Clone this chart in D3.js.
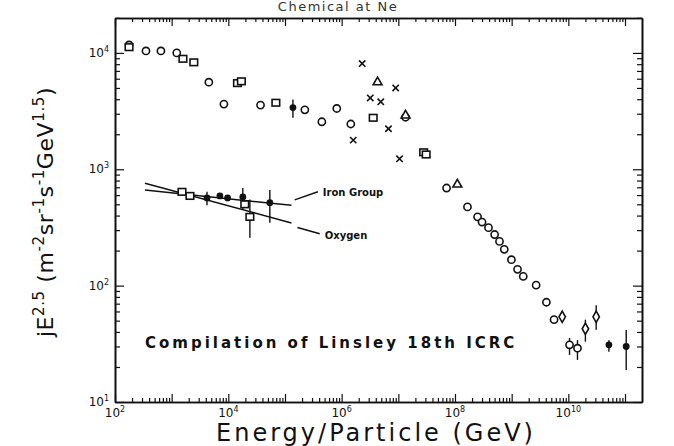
<!DOCTYPE html>
<html><head><meta charset="utf-8">
<script src="https://cdn.jsdelivr.net/npm/d3@7/dist/d3.min.js"></script>
<style>body{margin:0;background:#fff}svg{display:block}</style>
</head><body><svg id="c" width="674" height="446"></svg>
<script>
// ---- data (energy in GeV, flux jE^2.5) ----
const openCircleE = [177, 352, 646, 1230, 4530, 8360, 37000, 224000, 447000, 820000, 1.45e6, 1.34e7, 7.1e7,
  1.66e8, 2.5e8, 3.0e8, 3.9e8, 5.0e8, 6.1e8, 7.4e8, 9.9e8, 1.27e9, 1.6e9, 2.7e9, 4.1e9, 5.6e9];
const openCircleJ = [11700, 10400, 10400, 10000, 5600, 3630, 3560, 3240, 2560, 3330, 2450, 2800, 690,
  475, 390, 352, 315, 275, 240, 205, 167, 138, 120, 101, 72, 51];
const openSquareE = [177, 1580, 2460, 14500, 17000, 69000, 3.6e6, 2.8e7, 3.1e7, 1520, 2100, 19500];
const openSquareJ = [11200, 8900, 8300, 5500, 5700, 3730, 2770, 1400, 1340, 640, 590, 500];
const triangleE = [4.3e6, 1.34e7, 1.1e8];
const triangleJ = [5600, 2900, 740];
const crossE = [2.3e6, 3.2e6, 4.9e6, 8.97e6, 6.7e6, 1.6e6, 1.05e7];
const crossJ = [8100, 4100, 3800, 5000, 2230, 1780, 1230];
// points with error bars
const errCircleE = [1.05e10, 1.45e10];
const errCircleJ = [31, 29];
const errCircleLo = [25.4, 23];
const errCircleHi = [35.5, 34];
const diamondE = [7.8e9, 2.0e10, 3.1e10];
const diamondJ = [54, 42.6, 54];
const diamondLo = [54, 33, 41.7];
const diamondHi = [54, 51, 68];
const filledE = [1.38e5, 4200, 7100, 9700, 18000, 54000, 5.2e10, 1.05e11];
const filledJ = [3390, 567, 590, 567, 578, 516, 31, 30];
const filledLo = [2770, 490, 590, 567, 447, 347, 27, 18.8];
const filledHi = [3970, 640, 590, 567, 692, 662, 34, 41.6];
const oxySquareE = [24000];
const oxySquareJ = [390];
const oxySquareLo = [258];
const oxySquareHi = [550];
// fit lines
const ironLineE = [338, 1.3e5];
const ironLineJ = [662, 490];
const oxygenLineE = [338, 1.3e5];
const oxygenLineJ = [758, 346];
// labels
const ironLeaderE = [1.48e5, 3.8e5], ironLeaderJ = [546, 640];
const oxyLeaderE = [1.66e5, 4.1e5], oxyLeaderJ = [316, 279];
const xMajor = [1e2,1e3,1e4,1e5,1e6,1e7,1e8,1e9,1e10,1e11];
const xLabelExp = [2, 4, 6, 8, 10];
const yMajor = [1e1,1e2,1e3,1e4];
const yLabelExp = [1, 2, 3, 4];

// ---- drawing ----
const svg = d3.select("#c");
const L = 115, R = 642, T = 18, B = 402;
const x = d3.scaleLog().domain([100, Math.pow(10, 11.3)]).range([L, R]);
const y = d3.scaleLog().domain([10, Math.pow(10, 4.3)]).range([B, T]);
const ink = "#111";

// partial title (mostly cut off in the original scan)
svg.append("text").attr("x", 338).attr("y", 11).attr("text-anchor", "middle")
  .attr("font-family", "DejaVu Sans").attr("font-size", 13).attr("fill", "#333")
  .attr("letter-spacing", 1.5).text("Chemical at  Ne");

// minor ticks
function minors(lo, hi) { const a = []; for (let e = lo; e < hi; e++) for (let k = 2; k <= 9; k++) a.push(k * Math.pow(10, e)); return a; }
const xMin = minors(2, 11).filter(v => v < x.domain()[1]);
const yMin = minors(1, 4).concat([2e4]);

function axisG(axis, tr) {
  const g = svg.append("g").attr("transform", tr).call(axis);
  g.selectAll("text").remove();
  g.select(".domain").attr("stroke", ink).attr("stroke-width", 1.6);
  g.selectAll(".tick line").attr("stroke", ink).attr("stroke-width", 1.2);
  return g;
}
axisG(d3.axisBottom(x).tickValues(xMajor).tickSizeInner(-8).tickSizeOuter(0), `translate(0,${B})`);
axisG(d3.axisBottom(x).tickValues(xMin).tickSizeInner(-4).tickSizeOuter(0), `translate(0,${B})`);
axisG(d3.axisTop(x).tickValues(xMajor).tickSizeInner(-8).tickSizeOuter(0), `translate(0,${T})`);
axisG(d3.axisTop(x).tickValues(xMin).tickSizeInner(-4).tickSizeOuter(0), `translate(0,${T})`);
axisG(d3.axisLeft(y).tickValues(yMajor).tickSizeInner(-9).tickSizeOuter(0), `translate(${L},0)`);
axisG(d3.axisLeft(y).tickValues(yMin).tickSizeInner(-5).tickSizeOuter(0), `translate(${L},0)`);
axisG(d3.axisRight(y).tickValues(yMajor).tickSizeInner(-9).tickSizeOuter(0), `translate(${R},0)`);
axisG(d3.axisRight(y).tickValues(yMin).tickSizeInner(-5).tickSizeOuter(0), `translate(${R},0)`);

// tick labels
const lblFont = "DejaVu Sans";
xLabelExp.forEach(e => {
  const t = svg.append("text").attr("x", x(Math.pow(10, e))).attr("y", B + 15)
    .attr("text-anchor", "middle").attr("font-family", lblFont).attr("font-size", 12).attr("fill", ink);
  t.append("tspan").text("10");
  t.append("tspan").attr("dy", -5).attr("font-size", 8).text(e);
});
yLabelExp.forEach(e => {
  const t = svg.append("text").attr("x", L - 6).attr("y", y(Math.pow(10, e)) + 4)
    .attr("text-anchor", "end").attr("font-family", lblFont).attr("font-size", 12).attr("fill", ink);
  t.append("tspan").text("10");
  t.append("tspan").attr("dy", -5).attr("font-size", 8).text(e);
});

// axis titles
svg.append("text").attr("x", 376).attr("y", 441).attr("text-anchor", "middle")
  .attr("font-family", "DejaVu Sans").attr("font-size", 24).attr("letter-spacing", 3).attr("fill", ink)
  .text("Energy/Particle (GeV)");
const yl = svg.append("text").attr("transform", "translate(53,212) rotate(-90)").attr("text-anchor", "middle")
  .attr("font-family", "DejaVu Sans").attr("font-size", 22).attr("letter-spacing", 0.6).attr("fill", ink);
yl.append("tspan").text("jE");
yl.append("tspan").attr("dy", -9).attr("font-size", 15).text("2.5");
yl.append("tspan").attr("dy", 9).text(" (m");
yl.append("tspan").attr("dy", -9).attr("font-size", 15).text("-2");
yl.append("tspan").attr("dy", 9).text("sr");
yl.append("tspan").attr("dy", -9).attr("font-size", 15).text("-1");
yl.append("tspan").attr("dy", 9).text("s");
yl.append("tspan").attr("dy", -9).attr("font-size", 15).text("-1");
yl.append("tspan").attr("dy", 9).text("GeV");
yl.append("tspan").attr("dy", -9).attr("font-size", 15).text("1.5");
yl.append("tspan").attr("dy", 9).text(")");

// annotation
svg.append("text").attr("x", 145).attr("y", 348).attr("font-family", "DejaVu Sans").attr("font-weight", "bold")
  .attr("font-size", 15).attr("letter-spacing", 3).attr("fill", ink).text("Compilation of Linsley 18th ICRC");

// fit lines
const line = d3.line().x(d => x(d[0])).y(d => y(d[1]));
svg.append("path").attr("d", line(d3.zip(ironLineE, ironLineJ))).attr("stroke", ink).attr("stroke-width", 1.5).attr("fill", "none");
svg.append("path").attr("d", line(d3.zip(oxygenLineE, oxygenLineJ))).attr("stroke", ink).attr("stroke-width", 1.5).attr("fill", "none");
svg.append("path").attr("d", line(d3.zip(ironLeaderE, ironLeaderJ))).attr("stroke", ink).attr("stroke-width", 1.5);
svg.append("path").attr("d", line(d3.zip(oxyLeaderE, oxyLeaderJ))).attr("stroke", ink).attr("stroke-width", 1.5);
svg.append("text").attr("x", x(ironLeaderE[1]) + 5).attr("y", y(ironLeaderJ[1]) + 4).attr("font-family", "DejaVu Sans")
  .attr("font-weight", "bold").attr("font-size", 10).attr("fill", ink).text("Iron Group");
svg.append("text").attr("x", x(oxyLeaderE[1]) + 5).attr("y", y(oxyLeaderJ[1]) + 5).attr("font-family", "DejaVu Sans")
  .attr("font-weight", "bold").attr("font-size", 10).attr("fill", ink).text("Oxygen");

// error bars
function errs(E, lo, hi) {
  svg.append("g").selectAll("line").data(d3.range(E.length)).join("line")
    .attr("x1", i => x(E[i])).attr("x2", i => x(E[i]))
    .attr("y1", i => y(lo[i])).attr("y2", i => y(hi[i]))
    .attr("stroke", ink).attr("stroke-width", 1.4);
}
errs(errCircleE, errCircleLo, errCircleHi);
errs(diamondE, diamondLo, diamondHi);
errs(filledE, filledLo, filledHi);
errs(oxySquareE, oxySquareLo, oxySquareHi);

// markers
const sw = 1.6;
function circles(E, J) {
  svg.append("g").selectAll("circle").data(d3.zip(E, J)).join("circle")
    .attr("cx", d => x(d[0])).attr("cy", d => y(d[1])).attr("r", 3.6)
    .attr("fill", "#fff").attr("stroke", ink).attr("stroke-width", sw);
}
function squares(E, J) {
  svg.append("g").selectAll("rect").data(d3.zip(E, J)).join("rect")
    .attr("x", d => x(d[0]) - 3.8).attr("y", d => y(d[1]) - 3.3).attr("width", 7.6).attr("height", 6.6)
    .attr("fill", "#fff").attr("stroke", ink).attr("stroke-width", sw);
}
circles(openCircleE, openCircleJ);
squares(openSquareE, openSquareJ);
squares(oxySquareE, oxySquareJ);
circles(errCircleE, errCircleJ);
svg.append("g").selectAll("path").data(d3.zip(triangleE, triangleJ)).join("path")
  .attr("d", d3.symbol(d3.symbolTriangle, 34)).attr("transform", d => `translate(${x(d[0])},${y(d[1])})`)
  .attr("fill", "#fff").attr("stroke", ink).attr("stroke-width", sw);
svg.append("g").selectAll("path").data(d3.zip(crossE, crossJ)).join("path")
  .attr("d", d3.symbol(d3.symbolX, 28)).attr("transform", d => `translate(${x(d[0])},${y(d[1])})`)
  .attr("fill", "none").attr("stroke", ink).attr("stroke-width", 1.6);
svg.append("g").selectAll("path").data(d3.zip(diamondE, diamondJ)).join("path")
  .attr("d", d3.symbol(d3.symbolDiamond, 36)).attr("transform", d => `translate(${x(d[0])},${y(d[1])})`)
  .attr("fill", "#fff").attr("stroke", ink).attr("stroke-width", sw);
svg.append("g").selectAll("circle").data(d3.zip(filledE, filledJ)).join("circle")
  .attr("cx", d => x(d[0])).attr("cy", d => y(d[1])).attr("r", 3.4).attr("fill", ink);
</script></body></html>
